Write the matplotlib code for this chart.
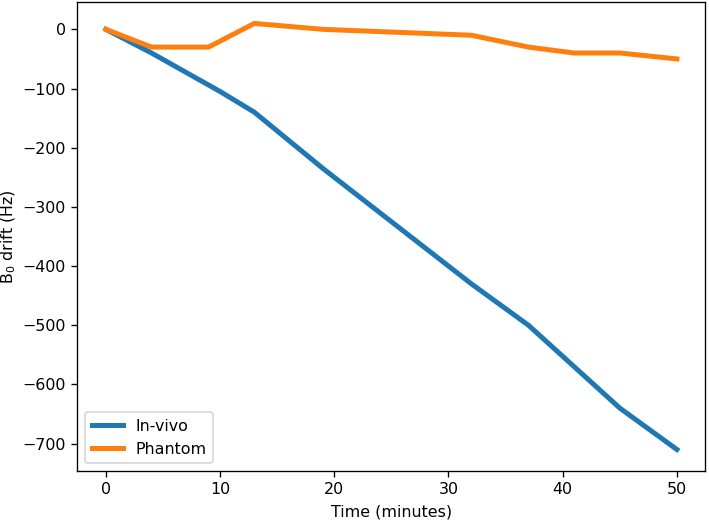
import matplotlib
matplotlib.use('Agg')
import matplotlib.pyplot as plt

# time points (minutes)
t_invivo = [0, 4, 10, 13, 19, 32, 37, 41, 45, 50]
drift_invivo = [0, -40, -105, -140, -235, -430, -500, -570, -640, -710]

t_phantom = [0, 4, 9, 13, 19, 32, 37, 41, 45, 50]
drift_phantom = [0, -30, -30, 10, 0, -10, -30, -40, -40, -50]

plt.rcParams['font.size'] = 9.5

fig = plt.figure(figsize=(709/120, 529/120), dpi=120)
ax = fig.add_subplot(111)
fig.subplots_adjust(left=0.109, right=0.995, top=0.996, bottom=0.110)

ax.plot(t_invivo, drift_invivo, color='#1f77b4', linewidth=3, label='In-vivo')
ax.plot(t_phantom, drift_phantom, color='#ff7f0e', linewidth=3, label='Phantom')

ax.set_xlabel('Time (minutes)')
ax.set_ylabel('B$_0$ drift (Hz)', labelpad=2.5)
ax.legend(loc='lower left')

fig.savefig('out.png', dpi=120)
